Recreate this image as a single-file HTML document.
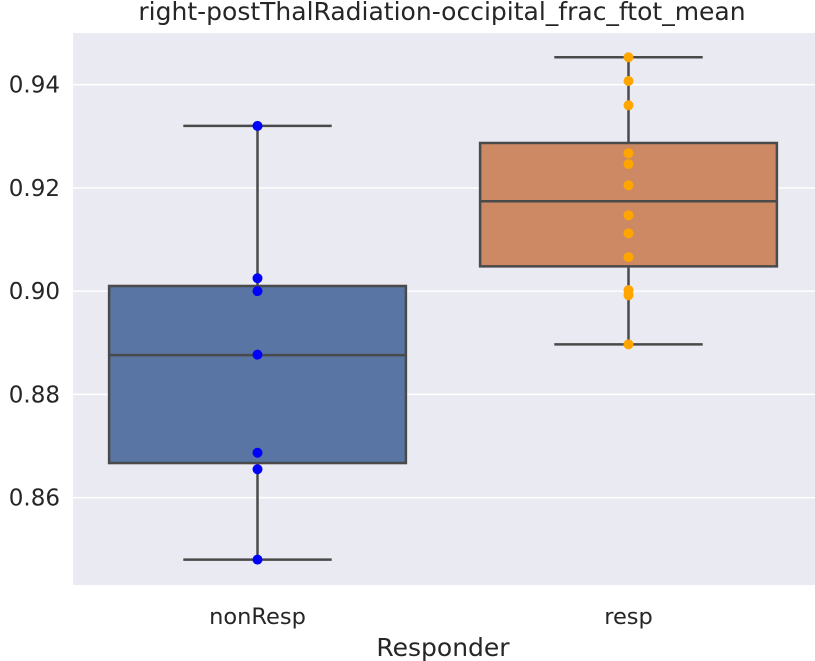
<!DOCTYPE html>
<html><head><meta charset="utf-8"><style>
body{margin:0;background:#fff;}
svg{display:block;font-family:"DejaVu Sans","Liberation Sans",sans-serif;}
</style></head><body>
<svg id="chart" width="815" height="661"></svg>
<script>
const categories=["nonResp","resp"];
const boxQ1=[0.8667,0.9048];
const boxMedian=[0.8876,0.9174];
const boxQ3=[0.9010,0.9287];
const whiskerLow=[0.848,0.8897];
const whiskerHigh=[0.932,0.9453];
const pointsNonResp=[0.932,0.9025,0.900,0.8877,0.8687,0.8655,0.848];
const pointsResp=[0.9453,0.9407,0.936,0.9267,0.9246,0.9205,0.9147,0.9112,0.9066,0.9002,0.8992,0.8897];
const yTicks=[0.86,0.88,0.90,0.92,0.94];
const boxColors=["#5875a4","#cc8963"];
const pointColors=["#0000ff","#ffa500"];

const NS="http://www.w3.org/2000/svg";
const svg=document.getElementById('chart');
const L=73,R=815,T=33,B=585;
const yMin=0.84308,yMax=0.95;
function y(v){return B-(v-yMin)/(yMax-yMin)*(B-T);}
function x(i){return L+(R-L)*(i+0.5)/categories.length;}
function mk(tag,attrs,parent){const e=document.createElementNS(NS,tag);for(const k in attrs)e.setAttribute(k,attrs[k]);(parent||svg).appendChild(e);return e;}

const bg=mk('rect',{x:L,y:T,width:R-L,height:B-T,fill:'#eaeaf2'});



yTicks.forEach(t=>{
  const g=mk('line',{x1:L,x2:R,y1:y(t),y2:y(t),stroke:'#fff','stroke-width':1.5});
  
  
  const tx=mk('text',{x:L-13,y:y(t)+8,'text-anchor':'end','font-size':23,fill:'#262626'});
  tx.textContent=t.toFixed(2);
  
  
});

const bw=(R-L)/categories.length*0.8;
categories.forEach((c,i)=>{
  const cx=x(i)-1;
  const g=mk('g',{});
  
  
  const st={stroke:'#4a4a4a','stroke-width':2.5};
  mk('line',Object.assign({x1:cx,x2:cx,y1:y(whiskerHigh[i]),y2:y(boxQ3[i])},st),g);
  mk('line',Object.assign({x1:cx,x2:cx,y1:y(boxQ1[i]),y2:y(whiskerLow[i])},st),g);
  mk('line',Object.assign({x1:cx-bw/4,x2:cx+bw/4,y1:y(whiskerHigh[i]),y2:y(whiskerHigh[i])},st),g);
  mk('line',Object.assign({x1:cx-bw/4,x2:cx+bw/4,y1:y(whiskerLow[i]),y2:y(whiskerLow[i])},st),g);
  mk('rect',Object.assign({x:cx-bw/2,y:y(boxQ3[i]),width:bw,height:y(boxQ1[i])-y(boxQ3[i]),fill:boxColors[i]},st),g);
  mk('line',Object.assign({x1:cx-bw/2,x2:cx+bw/2,y1:y(boxMedian[i]),y2:y(boxMedian[i])},st),g);
  const pts=i===0?pointsNonResp:pointsResp;
  pts.forEach(v=>{
    const p=mk('circle',{cx:cx,cy:y(v),r:5,fill:pointColors[i]});
    
    
  });
  const lb=mk('text',{x:cx,y:624,'text-anchor':'middle','font-size':22.5,fill:'#262626'});
  lb.textContent=c;
  
  
});

const xt=mk('text',{x:443,y:656,'text-anchor':'middle','font-size':25,fill:'#262626'});
xt.textContent='Responder';


const tt=mk('text',{x:442,y:20,'text-anchor':'middle','font-size':25,fill:'#262626'});
tt.textContent='right-postThalRadiation-occipital_frac_ftot_mean';


</script>
</body></html>
